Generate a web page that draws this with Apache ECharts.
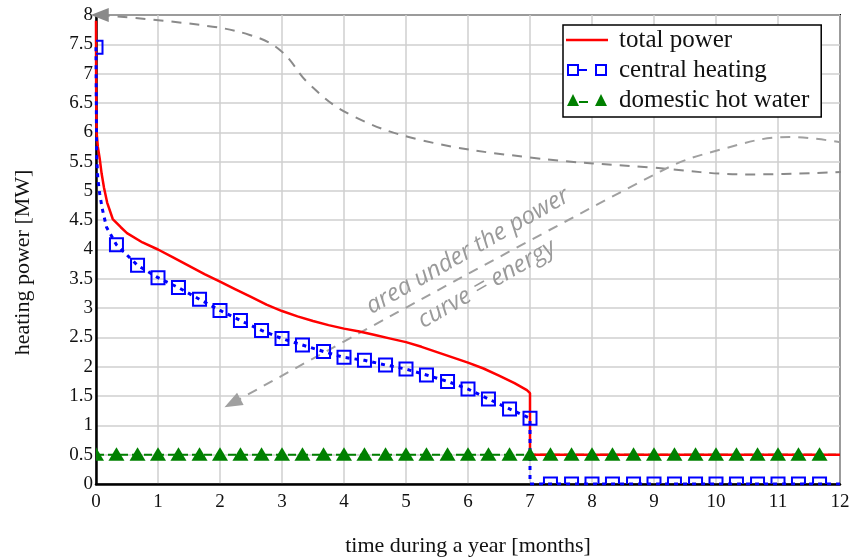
<!DOCTYPE html>
<html><head><meta charset="utf-8">
<script src="https://cdn.jsdelivr.net/npm/echarts@6/dist/echarts.min.js"></script>
<style>html,body{margin:0;padding:0;background:#fff}#c{width:852px;height:560px}</style>
</head><body><div id="c"></div>
<script>
const xMin = 0, xMax = 12, xStep = 1;
const yMin = 0, yMax = 8, yStep = 0.5;
const seriesNames = ['total power', 'central heating', 'domestic hot water'];
const xAxisTitle = 'time during a year [months]';
const yAxisTitle = 'heating power [MW]';
const noteLines = ['area under the power', 'curve = energy'];
const noteAnchor = [6.15, 3.69];

const totalPower = [[0,7.9],[0.003,6.6],[0.01,6.0],[0.03,5.75],[0.06,5.55],[0.09,5.3],[0.13,5.05],[0.18,4.8],[0.27,4.52],[0.4,4.38],[0.5,4.28],[0.75,4.12],[1,4.0],[1.25,3.86],[1.5,3.72],[1.75,3.58],[2,3.45],[2.25,3.32],[2.5,3.19],[2.75,3.06],[3,2.95],[3.25,2.86],[3.5,2.78],[3.75,2.71],[4,2.65],[4.25,2.6],[4.5,2.54],[4.75,2.48],[5,2.42],[5.25,2.34],[5.5,2.25],[5.75,2.16],[6,2.07],[6.25,1.97],[6.5,1.85],[6.75,1.72],[6.95,1.6],[7,1.55],[7,0.5],[12,0.5]];

const heatingMarkers = [[0,7.45],[0.33,4.08],[0.67,3.73],[1,3.52],[1.33,3.35],[1.67,3.15],[2,2.96],[2.33,2.79],[2.67,2.62],[3,2.48],[3.33,2.37],[3.67,2.26],[4,2.16],[4.33,2.11],[4.67,2.03],[5,1.96],[5.33,1.86],[5.67,1.75],[6,1.62],[6.33,1.45],[6.67,1.28],[7,1.12],[7.33,0],[7.67,0],[8,0],[8.33,0],[8.67,0],[9,0],[9.33,0],[9.67,0],[10,0],[10.33,0],[10.67,0],[11,0],[11.33,0],[11.67,0]];
const heatingShape = [[0.01,5.6],[0.03,5.2],[0.06,4.95],[0.1,4.7],[0.17,4.38],[7,0],[12,0]];

const hotWaterMarkers = [[0,0.5],[0.33,0.5],[0.67,0.5],[1,0.5],[1.33,0.5],[1.67,0.5],[2,0.5],[2.33,0.5],[2.67,0.5],[3,0.5],[3.33,0.5],[3.67,0.5],[4,0.5],[4.33,0.5],[4.67,0.5],[5,0.5],[5.33,0.5],[5.67,0.5],[6,0.5],[6.33,0.5],[6.67,0.5],[7,0.5],[7.33,0.5],[7.67,0.5],[8,0.5],[8.33,0.5],[8.67,0.5],[9,0.5],[9.33,0.5],[9.67,0.5],[10,0.5],[10.33,0.5],[10.67,0.5],[11,0.5],[11.33,0.5],[11.67,0.5]];
const hotWaterShape = [[12,0.5]];

const arrowCurveTop = [[0.06,8.0],[1.68,7.83],[2.48,7.66],[2.97,7.4],[3.45,6.81],[4.1,6.3],[5.23,5.87],[7.0,5.57],[8.94,5.4],[10.55,5.28],[12.2,5.33]];
const arrowCurveDiag = [[2.2,1.38],[9.1,5.33],[10.06,5.7],[11.19,5.92],[12.2,5.79]];

const serif = 'Liberation Serif';

const heatLine = heatingMarkers.concat(heatingShape)
  .sort((a,b) => a[0]-b[0] || b[1]-a[1]);
const waterLine = hotWaterMarkers.concat(hotWaterShape)
  .sort((a,b) => a[0]-b[0] || b[1]-a[1]);

function arrowData(pts, rot){
  return pts.map((p,i) => i === 0 ? {value: p, symbol: 'triangle', symbolSize: [14,18], symbolRotate: rot} : {value: p, symbol: 'none'});
}

const iconLine = 'path://M0,0H42V2.4H0Z';
const iconSquares = 'path://M0,0H12V12H0ZM2,2V10H10V2ZM12,5H20V7H12ZM28,0H40V12H28ZM30,2V10H38V2Z';
const iconTriangles = 'path://M0,12L6,0L12,12ZM12,7H21V9H12ZM28,12L34,0L40,12Z';

const chart = echarts.init(document.getElementById('c'), null, {renderer: 'canvas'});
const option = {
  backgroundColor: '#fff',
  animation: false,
  grid: {left: 96, right: 12, top: 15, bottom: 76, show: true, borderColor: '#000', borderWidth: 2,
    backgroundColor: 'transparent', containLabel: false, outerBoundsMode: 'none'},
  xAxis: {
    type: 'value', min: xMin, max: xMax, interval: xStep,
    name: xAxisTitle, nameLocation: 'middle', nameGap: 51,
    nameTextStyle: {fontFamily: serif, fontSize: 22, color: '#111'},
    axisLine: {show: true, lineStyle: {color: '#000', width: 2.5}},
    axisTick: {show: false},
    axisLabel: {fontFamily: serif, fontSize: 19, color: '#111', margin: 9},
    splitLine: {show: true, lineStyle: {color: '#cfcfcf', width: 1.5}}
  },
  yAxis: {
    type: 'value', min: yMin, max: yMax, interval: yStep,
    name: yAxisTitle, nameLocation: 'middle', nameGap: 62, nameRotate: 90,
    nameTextStyle: {fontFamily: serif, fontSize: 22, color: '#111', padding: [0, 26, 0, 0]},
    axisLine: {show: true, lineStyle: {color: '#000', width: 2.5}},
    axisTick: {show: false},
    axisLabel: {fontFamily: serif, fontSize: 19, color: '#111', margin: 3},
    splitLine: {show: true, lineStyle: {color: '#cfcfcf', width: 1.5}}
  },
  legend: {
    data: [
      {name: seriesNames[0], icon: iconLine, itemStyle: {color: '#ff0000', borderWidth: 0}},
      {name: seriesNames[1], icon: iconSquares, itemStyle: {color: '#0000ff', borderWidth: 0}},
      {name: seriesNames[2], icon: iconTriangles, itemStyle: {color: '#008000', borderWidth: 0}}
    ],
    orient: 'vertical', left: 563, top: 25,
    backgroundColor: '#fff', borderColor: '#000', borderWidth: 1.5,
    padding: [2, 12, 4, 3], itemGap: 4, itemWidth: 42, itemHeight: 12,
    textStyle: {fontFamily: serif, fontSize: 25, color: '#111', lineHeight: 26, padding: [0, 0, 0, 6]}
  },
  series: [
    {name: 'arrowTop', type: 'line', data: arrowData(arrowCurveTop, 90), smooth: 0.4, clip: false, silent: true,
      lineStyle: {color: '#8a8a8a', width: 2, type: [10, 8]}, itemStyle: {color: '#8a8a8a'}, z: 1},
    {name: 'arrowDiag', type: 'line', data: arrowData(arrowCurveDiag, 118), smooth: 0.4, clip: false, silent: true,
      lineStyle: {color: '#a0a0a0', width: 2, type: [10, 8]}, itemStyle: {color: '#a0a0a0'}, z: 1},
    {name: seriesNames[2], type: 'line', data: waterLine, symbol: 'none', showSymbol: false,
      lineStyle: {color: '#008000', width: 2, type: [8, 4]}, itemStyle: {color: '#008000'}, z: 2},
    {name: seriesNames[0], type: 'line', data: totalPower, symbol: 'none', showSymbol: false,
      lineStyle: {color: '#ff0000', width: 2.5}, itemStyle: {color: '#ff0000'}, z: 3},
    {name: seriesNames[1], type: 'line', data: heatLine, symbol: 'none', showSymbol: false,
      lineStyle: {color: '#0000ff', width: 3, type: [4, 5]}, itemStyle: {color: '#0000ff'}, z: 4},
    {name: 'heatingMarks', type: 'custom', data: heatingMarkers, clip: true, silent: true, z: 5,
      encode: {x: 0, y: 1},
      renderItem: function(params, api){
        const p = api.coord([api.value(0), api.value(1)]);
        return {type: 'rect', shape: {x: p[0]-6.5, y: p[1]-6.5, width: 13, height: 13},
          style: {fill: 'none', stroke: '#0000ff', lineWidth: 2}};
      }},
    {name: 'waterMarks', type: 'custom', data: hotWaterMarkers, clip: true, silent: true, z: 6,
      encode: {x: 0, y: 1},
      renderItem: function(params, api){
        const p = api.coord([api.value(0), api.value(1)]);
        return {type: 'polygon', shape: {points: [[p[0]-8, p[1]+6], [p[0], p[1]-7.5], [p[0]+8, p[1]+6]]},
          style: {fill: '#008000'}};
      }}
  ]
};
chart.setOption(option);

const anchor = chart.convertToPixel({gridIndex: 0}, noteAnchor);
chart.setOption({
  graphic: [{
    type: 'text', x: anchor[0], y: anchor[1], rotation: 0.52,
    style: {text: noteLines.join('\n'), fill: '#9a9a9a', font: 'italic 24px "Open Sans"', align: 'center', verticalAlign: 'middle', lineHeight: 38},
    z: 10
  }]
});
</script></body></html>
